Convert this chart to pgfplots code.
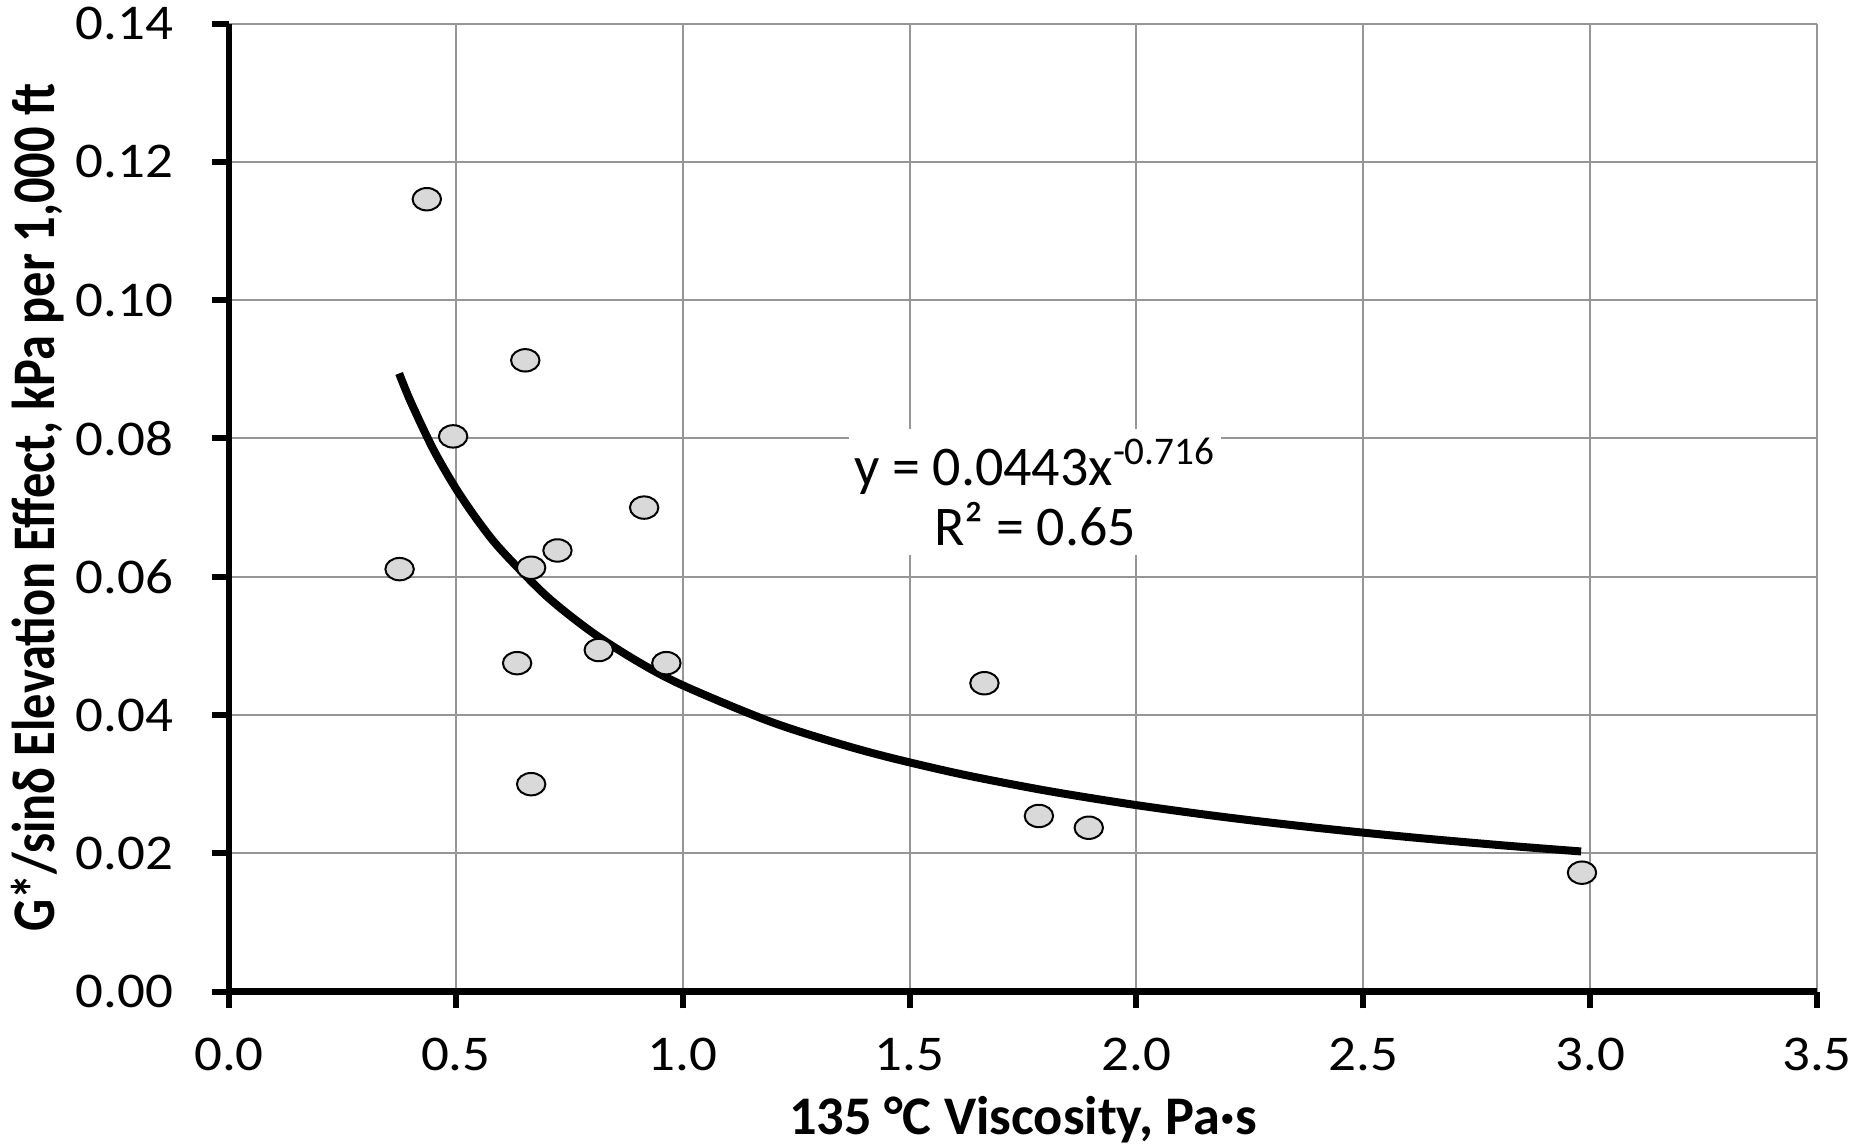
\documentclass[border=0pt]{standalone}
\usepackage{graphicx}
\usepackage{fontspec}
\setmainfont{Carlito}
\newfontfamily\tickfont[FakeStretch=1.1]{Carlito}
\usepackage{pgfplots}
\pgfplotsset{compat=1.18}
\definecolor{gridgray}{RGB}{150,150,150}
\definecolor{markfill}{RGB}{217,217,217}
\begin{document}
\begin{tikzpicture}
\path[use as bounding box] (-57.25pt,-38.1pt) rectangle (407.75pt,247.9pt);
\begin{axis}[
  at={(0,0)}, anchor=south west,
  scale only axis, width=397pt, height=242pt,
  xmin=0, xmax=3.5, ymin=0, ymax=0.14,
  axis x line=bottom, axis y line=left,
  axis line style={line width=1.6pt, -},
  xtick={0,0.5,1,1.5,2,2.5,3,3.5},
  ytick={0,0.02,0.04,0.06,0.08,0.10,0.12,0.14},
  tick align=outside,
  major tick length=4.2pt,
  tick style={line width=1.5pt, black},
  grid=major,
  grid style={line width=0.5pt, gridgray},
  /pgf/number format/assume math mode=true,
  /pgf/number format/fixed, /pgf/number format/fixed zerofill,
  xticklabel style={/pgf/number format/precision=1, font=\tickfont\fontsize{12.5}{12.5}\selectfont, anchor=north, inner sep=0pt, yshift=-7.2pt},
  yticklabel style={/pgf/number format/precision=2, font=\tickfont\fontsize{12.5}{12.5}\selectfont, anchor=east, inner sep=0pt, xshift=-9.5pt},
  scaled y ticks=false,
  xlabel={\bfseries 135 °C Viscosity, Pa·s},
  xlabel style={at={(axis description cs:0.5,-0.148)}, anchor=base, inner sep=0pt, font=\fontsize{13.6}{13.6}\selectfont},
  ylabel={\scalebox{1}[1.2]{\bfseries G*/sinδ Elevation Effect, kPa per 1,000 ft}},
  ylabel style={at={(axis description cs:-0.1096,0.5)}, anchor=base, inner sep=0pt, font=\fontsize{12.6}{12.6}\selectfont},
  clip=false,
]
\addplot[line width=2pt, smooth, no marks] coordinates {
 (0.375,0.0894) (0.4,0.08538) (0.45,0.07846) (0.5,0.07277) (0.55,0.06797)
 (0.6,0.06386) (0.7,0.05719) (0.8,0.05198) (0.9,0.04777) (1.0,0.0443)
 (1.2,0.03888) (1.4,0.03482) (1.6,0.03164) (1.8,0.02908) (2.0,0.02697)
 (2.2,0.02519) (2.4,0.02367) (2.6,0.02235) (2.8,0.02119) (2.98,0.02027)
};
\addplot[only marks, mark=*, mark size=2.8pt,
  mark options={xscale=1.27, fill=markfill, draw=black, line width=0.5pt}] coordinates {
 (0.436,0.1146) (0.653,0.0913) (0.494,0.0803) (0.915,0.0700) (0.376,0.0611)
 (0.724,0.0638) (0.666,0.0613) (0.635,0.0475) (0.815,0.0494) (0.964,0.0475)
 (0.666,0.0300) (1.665,0.0446) (1.785,0.0254) (1.895,0.0237) (2.982,0.0172)
};
\node[fill=white, inner sep=0pt, minimum width=93pt, minimum height=31.5pt,
  align=center, font=\fontsize{14}{15}\selectfont] at (axis cs:1.777,0.0722)
  {y = 0.0443x\textsuperscript{-0.716}\\R² = 0.65};
\end{axis}
\end{tikzpicture}
\end{document}
